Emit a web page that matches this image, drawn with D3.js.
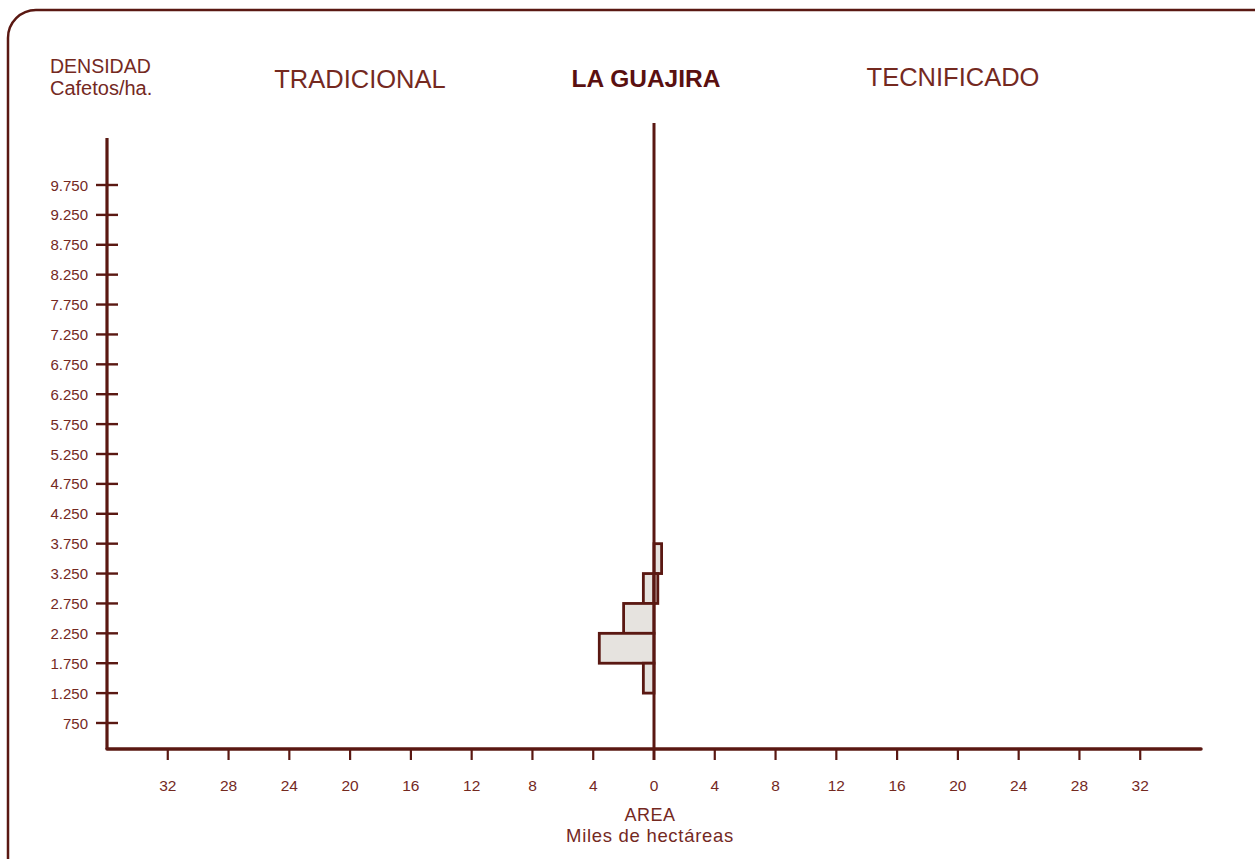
<!DOCTYPE html>
<html><head><meta charset="utf-8">
<script src="https://cdn.jsdelivr.net/npm/d3@7"></script>
<style>body{margin:0;background:#fff}svg{display:block}</style>
</head><body>
<script>
// Data: density bins (Cafetos/ha.) and area (miles de hectáreas)
const binLow  = [3250, 2750, 2250, 1750, 1250];
const binHigh = [3750, 3250, 2750, 2250, 1750];
const tradicional = [0, 0.7, 2.0, 3.6, 0.7];
const tecnificado = [0.5, 0.25, 0, 0, 0];
const yTickValues = [750,1250,1750,2250,2750,3250,3750,4250,4750,5250,5750,6250,6750,7250,7750,8250,8750,9250,9750];
const xTickValues = [-32,-28,-24,-20,-16,-12,-8,-4,0,4,8,12,16,20,24,28,32];

const W = 1255, H = 859;
const line = "#5a1812", txt = "#74291f";
const font = "Liberation Sans, Arial, sans-serif";
const svg = d3.select("body").append("svg").attr("width", W).attr("height", H);

// frame
svg.append("rect").attr("x", 8).attr("y", 10).attr("width", 1275).attr("height", 880)
  .attr("rx", 28).attr("fill", "none").attr("stroke", line).attr("stroke-width", 2.5);

const x = d3.scaleLinear().domain([-36, 36]).range([107, 1201]);
const y = d3.scaleLinear().domain([750, 9750]).range([723, 185]);

const fmt = v => v >= 1000 ? d3.format(",")(v).replace(",", ".") : String(v);

// bars
const rows = binLow.map((lo, i) => ({lo, hi: binHigh[i], t: tradicional[i], c: tecnificado[i]}));
const g = svg.append("g");
g.selectAll("rect.t").data(rows.filter(d => d.t > 0)).join("rect").attr("class", "t")
  .attr("x", d => x(-d.t)).attr("width", d => x(0) - x(-d.t))
  .attr("y", d => y(d.hi)).attr("height", d => y(d.lo) - y(d.hi))
  .attr("fill", "#e6e3df").attr("stroke", line).attr("stroke-width", 2.8);
g.selectAll("rect.c").data(rows.filter(d => d.c > 0)).join("rect").attr("class", "c")
  .attr("x", x(0)).attr("width", d => x(d.c) - x(0))
  .attr("y", d => y(d.hi)).attr("height", d => y(d.lo) - y(d.hi))
  .attr("fill", "#e6e3df").attr("stroke", line).attr("stroke-width", 2.8);

// axes lines
svg.append("line").attr("x1", x(-36)).attr("x2", x(-36)).attr("y1", 138).attr("y2", 749)
  .attr("stroke", line).attr("stroke-width", 3.2);
svg.append("line").attr("x1", x(-36)).attr("x2", x(36)).attr("y1", 749).attr("y2", 749)
  .attr("stroke", line).attr("stroke-width", 3.5).attr("stroke-linecap", "round");
svg.append("line").attr("x1", x(0)).attr("x2", x(0)).attr("y1", 123).attr("y2", 760)
  .attr("stroke", line).attr("stroke-width", 3);

// y ticks
const yt = svg.append("g");
yt.selectAll("line").data(yTickValues).join("line")
  .attr("x1", 96).attr("x2", 118).attr("y1", d => y(d)).attr("y2", d => y(d))
  .attr("stroke", line).attr("stroke-width", 2.4);
yt.selectAll("text").data(yTickValues).join("text")
  .attr("x", 88).attr("y", d => y(d) + 5.5).attr("text-anchor", "end")
  .attr("font-family", font).attr("font-size", 15)
  .attr("fill", txt).text(fmt);

// x ticks
const xt = svg.append("g");
xt.selectAll("line").data(xTickValues.filter(d => d !== 0)).join("line")
  .attr("x1", d => x(d)).attr("x2", d => x(d)).attr("y1", 749).attr("y2", 760)
  .attr("stroke", line).attr("stroke-width", 2.2);
xt.selectAll("text").data(xTickValues).join("text")
  .attr("x", d => x(d)).attr("y", 791).attr("text-anchor", "middle")
  .attr("font-family", font).attr("font-size", 15.5)
  .attr("fill", txt).text(d => Math.abs(d));

// labels
function label(t, xx, yy, size, anchor, weight, ls) {
  svg.append("text").attr("x", xx).attr("y", yy).attr("text-anchor", anchor || "start")
    .attr("font-family", font).attr("font-size", size).attr("font-weight", weight || "normal")
    .attr("letter-spacing", ls || 0)
    .attr("fill", weight === "bold" ? "#5a1010" : txt).text(t);
}
label("DENSIDAD", 50, 73, 19.5);
label("Cafetos/ha.", 50, 95, 20);
label("TRADICIONAL", 360, 88, 25.5, "middle");
label("LA GUAJIRA", 646, 87, 24.5, "middle", "bold");
label("TECNIFICADO", 953, 86, 25.5, "middle");
label("AREA", 650, 821, 18, "middle", null, 0.5);
label("Miles de hectáreas", 650, 842, 18.5, "middle", null, 0.7);
</script>
</body></html>
